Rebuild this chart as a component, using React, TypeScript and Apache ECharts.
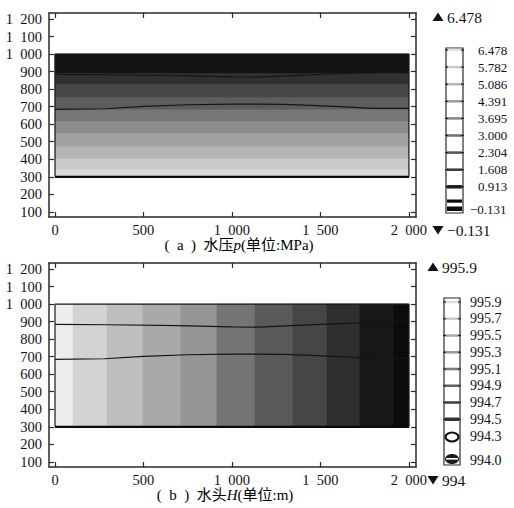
import React, { useEffect, useRef } from 'react';
import * as echarts from 'echarts';

// ---- data ----
const xTicks = [0, 500, 1000, 1500, 2000];
const yTicks = [100, 200, 300, 400, 500, 600, 700, 800, 900, 1000, 1100, 1200];
const modelX = [0, 2000];
const modelY = [300, 1000];
// pressure field: horizontal bands (y edges, bottom -> top)
const pressureBandEdges = [300, 343, 405, 475, 550, 618, 685, 755, 826, 892, 1000];
// head field: vertical bands (x edges, left -> right)
const headBandEdges = [0, 102, 294, 497, 712, 915, 1130, 1345, 1537, 1723, 1915, 2000];
// contour / interface lines
const upperContour = [[0, 884], [300, 882], [700, 877], [1000, 870], [1150, 868], [1400, 880], [1700, 892], [2000, 900]];
const lowerContour = [[0, 685], [280, 688], [500, 702], [750, 711], [1000, 715], [1300, 713], [1550, 703], [1800, 690], [2000, 690]];
// legends
const pressureLegend = ['6.478', '5.782', '5.086', '4.391', '3.695', '3.000', '2.304', '1.608', '0.913', '\u22120.131'];
const pressureMax = '6.478';
const pressureMin = '\u22120.131';
const headLegend = ['995.9', '995.7', '995.5', '995.3', '995.1', '994.9', '994.7', '994.5', '994.3', '994.0'];
const headMax = '995.9';
const headMin = '994';

// ---- styles ----
const pressureGrays = ['#dbdbdb', '#c9c9c9', '#b5b5b5', '#a1a1a1', '#8c8c8c', '#767676', '#5d5d5d', '#474747', '#303030', '#141414'];
const headGrays = ['#ededed', '#d3d3d3', '#bebebe', '#a9a9a9', '#959595', '#757575', '#5a5a5a', '#464646', '#2f2f2f', '#171717', '#0b0b0b'];
const pressureStripe = ['#e2e2e2', '#cbcbcb', '#b5b5b5', '#9d9d9d', '#898989', '#717171', '#585858', '#3e3e3e', '#1c1c1c'];
const headStripe = ['#dedede', '#c9c9c9', '#ababab', '#999999', '#7c7c7c', '#666666', '#454545', '#333333'];

const FONT = 'Liberation Serif, Times New Roman, Noto Sans CJK SC, serif';
const TXT = '#111111';
const FRAME = '#2a2a2a';
const SP = '\u2002';

const fmt = (v: number) =>
  v >= 1000 ? `${Math.floor(v / 1000)}${SP}${String(v % 1000).padStart(3, '0')}` : String(v);

function xAxes(gridIndex: number) {
  const base = {
    type: 'value' as const,
    gridIndex,
    min: -34,
    max: 2040,
    splitLine: { show: false },
    axisLine: { show: true, onZero: false, lineStyle: { color: FRAME, width: 1.5 } },
    axisTick: { show: true, inside: true, length: 5, customValues: xTicks, lineStyle: { color: FRAME, width: 1.2 } },
  };
  return [
    { ...base, position: 'bottom', axisLabel: { show: true, customValues: xTicks, formatter: fmt, fontSize: 14.5, fontFamily: FONT, color: TXT, margin: 6 } },
    { ...base, position: 'top', axisLabel: { show: false } },
  ];
}
function yAxes(gridIndex: number) {
  const base = {
    type: 'value' as const,
    gridIndex,
    min: 71,
    max: 1234,
    splitLine: { show: false },
    axisLine: { show: true, onZero: false, lineStyle: { color: FRAME, width: 1.5 } },
    axisTick: { show: true, inside: true, length: 5, customValues: yTicks, lineStyle: { color: FRAME, width: 1.2 } },
  };
  return [
    { ...base, position: 'left', axisLabel: { show: true, customValues: yTicks, formatter: fmt, fontSize: 14.5, fontFamily: FONT, color: TXT, margin: 7 } },
    { ...base, position: 'right', axisLabel: { show: false } },
  ];
}

function bandSeries(xi: number, yi: number, items: number[][], palette: string[]) {
  return {
    type: 'custom',
    xAxisIndex: xi,
    yAxisIndex: yi,
    z: 1,
    data: items,
    renderItem: (params: any, api: any) => {
      const p0 = api.coord([api.value(0), api.value(3)]);
      const p1 = api.coord([api.value(1), api.value(2)]);
      return {
        type: 'rect',
        shape: { x: p0[0] - 0.3, y: p0[1] - 0.3, width: p1[0] - p0[0] + 0.6, height: p1[1] - p0[1] + 0.6 },
        style: { fill: palette[params.dataIndex] },
      };
    },
  };
}

function lineSeries(xi: number, yi: number, data: number[][], width: number, color = '#151515') {
  return {
    type: 'line',
    xAxisIndex: xi,
    yAxisIndex: yi,
    data,
    z: 4,
    symbol: 'none',
    silent: true,
    lineStyle: { color, width },
  };
}

function outline(xi: number, yi: number) {
  return [
    lineSeries(xi, yi, [[modelX[0], modelY[0]], [modelX[1], modelY[0]], [modelX[1], modelY[1]], [modelX[0], modelY[1]], [modelX[0], modelY[0]]], 1.2, '#1a1a1a'),
    lineSeries(xi, yi, [[modelX[0], modelY[0]], [modelX[1], modelY[0]]], 2.4, '#0a0a0a'),
  ];
}

function colorbar(opts: {
  bx: number; by: number; bw: number; bh: number; labels: string[]; stripes: string[];
  labelX: number; fontSize: number; firstY: number; step: number; lastY: number;
  maxText: string; minText: string; triX: number; textX: number; triTopY: number; triBotY: number; head: boolean;
}) {
  const els: any[] = [];
  const { bx, by, bw, bh } = opts;
  els.push({ type: 'rect', shape: { x: bx, y: by, width: bw, height: bh }, style: { fill: '#fff', stroke: FRAME, lineWidth: 1.2 }, z: 10 });
  opts.stripes.forEach((c, i) => {
    const y = opts.firstY + i * opts.step;
    const h = i === opts.stripes.length - 1 ? 3.5 : 2.6;
    els.push({ type: 'rect', shape: { x: bx + 1, y: y - h / 2, width: bw - 2, height: h }, style: { fill: c }, z: 11 });
    els.push({ type: 'rect', shape: { x: bx - 1, y: y - 0.6, width: 3, height: 1.2 }, style: { fill: '#222' }, z: 12 });
    els.push({ type: 'rect', shape: { x: bx + bw - 2, y: y - 0.6, width: 3, height: 1.2 }, style: { fill: '#222' }, z: 12 });
  });
  if (opts.head) {
    const yA = opts.firstY + 8 * opts.step;
    els.push({ type: 'ellipse', shape: { cx: bx + bw / 2, cy: yA + 1, rx: bw / 2 - 1.5, ry: 4.5 }, style: { fill: 'none', stroke: '#111', lineWidth: 2.2 }, z: 12 });
    els.push({ type: 'ellipse', shape: { cx: bx + bw / 2, cy: opts.lastY - 1, rx: bw / 2 - 1, ry: 5 }, style: { fill: '#1a1a1a' }, z: 12 });
    els.push({ type: 'rect', shape: { x: bx + 2, y: opts.lastY - 2, width: bw - 4, height: 1.6 }, style: { fill: '#fff' }, z: 13 });
  } else {
    els.push({ type: 'rect', shape: { x: bx + 1, y: opts.lastY - 9.5, width: bw - 2, height: 3.2 }, style: { fill: '#0a0a0a' }, z: 11 });
    els.push({ type: 'rect', shape: { x: bx + 1, y: opts.lastY - 2.5, width: bw - 2, height: 4.5 }, style: { fill: '#0a0a0a' }, z: 11 });
  }
  opts.labels.forEach((t, i) => {
    const y = i === opts.labels.length - 1 ? opts.lastY : opts.firstY + i * opts.step;
    const neg = t.startsWith('\u2212');
    els.push({
      type: 'text', x: opts.labelX - (neg ? 8 : 0), y, z: 14,
      style: { text: t, fill: TXT, fontSize: opts.fontSize, fontFamily: FONT, verticalAlign: 'middle', align: 'left' },
    });
  });
  const tx = opts.triX;
  els.push({ type: 'polygon', shape: { points: [[tx, opts.triTopY - 4.5], [tx + 5.5, opts.triTopY + 4], [tx - 5.5, opts.triTopY + 4]] }, style: { fill: '#111' }, z: 14 });
  els.push({ type: 'polygon', shape: { points: [[tx - 5.5, opts.triBotY - 4], [tx + 5.5, opts.triBotY - 4], [tx, opts.triBotY + 4.5]] }, style: { fill: '#111' }, z: 14 });
  els.push({ type: 'text', x: opts.textX, y: opts.triTopY, z: 14, style: { text: opts.maxText, fill: TXT, fontSize: 15.5, fontFamily: FONT, verticalAlign: 'middle' } });
  els.push({ type: 'text', x: opts.textX, y: opts.triBotY, z: 14, style: { text: opts.minText, fill: TXT, fontSize: 15.5, fontFamily: FONT, verticalAlign: 'middle' } });
  return els;
}

export default function App() {
  const ref = useRef<HTMLDivElement>(null);
  useEffect(() => {
    if (!ref.current) return;
    const chart = echarts.init(ref.current, undefined, { renderer: 'svg' });

    const pressureItems = pressureBandEdges.slice(0, -1).map((y0, i) => [modelX[0], modelX[1], y0, pressureBandEdges[i + 1]]);
    const headItems = headBandEdges.slice(0, -1).map((x0, i) => [x0, headBandEdges[i + 1], modelY[0], modelY[1]]);

    const captionRich = {
      n: { fontSize: 15, fontFamily: FONT, color: TXT },
      i: { fontSize: 15, fontFamily: FONT, color: TXT, fontStyle: 'italic' },
    };

    chart.setOption({
      animation: false,
      backgroundColor: '#fff',
      grid: [
        { left: 49, top: 13, width: 367, height: 204, containLabel: false },
        { left: 49, top: 263, width: 367, height: 204, containLabel: false },
      ],
      xAxis: [...xAxes(0), ...xAxes(1)],
      yAxis: [...yAxes(0), ...yAxes(1)],
      series: [
        bandSeries(0, 0, pressureItems, pressureGrays),
        lineSeries(0, 0, upperContour, 1.2),
        lineSeries(0, 0, lowerContour, 1.2),
        ...outline(0, 0),
        bandSeries(2, 2, headItems, headGrays),
        lineSeries(2, 2, upperContour, 1.2),
        lineSeries(2, 2, lowerContour, 1.2),
        ...outline(2, 2),
      ],
      graphic: [
        {
          type: 'text', x: 239, y: 245, z: 14,
          style: { text: `{n|(${SP}a${SP})${SP}水压}{i|p}{n|(单位:MPa)}`, rich: captionRich, align: 'center', verticalAlign: 'middle' },
        },
        {
          type: 'text', x: 225, y: 495, z: 14,
          style: { text: `{n|(${SP}b${SP})${SP}水头}{i|H}{n|(单位:m)}`, rich: captionRich, align: 'center', verticalAlign: 'middle' },
        },
        ...colorbar({
          bx: 446, by: 48, bw: 17, bh: 165, labels: pressureLegend, stripes: pressureStripe,
          labelX: 478, fontSize: 13, firstY: 50, step: 17.1, lastY: 209,
          maxText: pressureMax, minText: pressureMin, triX: 438, textX: 447, triTopY: 17, triBotY: 230, head: false,
        }),
        ...colorbar({
          bx: 444, by: 298, bw: 16, bh: 167, labels: headLegend, stripes: headStripe,
          labelX: 470, fontSize: 14, firstY: 302, step: 16.75, lastY: 460,
          maxText: headMax, minText: headMin, triX: 433, textX: 442, triTopY: 267, triBotY: 480, head: true,
        }),
      ],
    });
    return () => chart.dispose();
  }, []);
  return <div ref={ref} style={{ position: 'fixed', left: 0, top: 0, width: 514, height: 508 }} />;
}
